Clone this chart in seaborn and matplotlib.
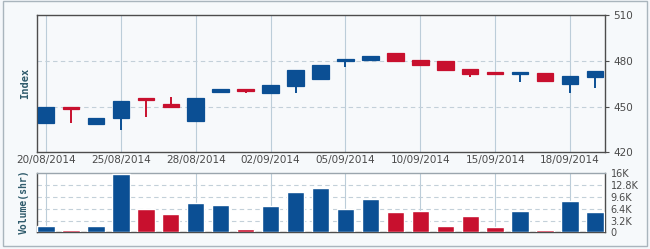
import numpy as np
import matplotlib
matplotlib.use("Agg")
import matplotlib.pyplot as plt
from matplotlib.patches import Rectangle
import seaborn as sns

dates = ['20/08/2014', '21/08/2014', '22/08/2014', '25/08/2014', '26/08/2014', '27/08/2014',
         '28/08/2014', '29/08/2014', '01/09/2014', '02/09/2014', '03/09/2014', '04/09/2014',
         '05/09/2014', '08/09/2014', '09/09/2014', '10/09/2014', '11/09/2014', '12/09/2014',
         '15/09/2014', '16/09/2014', '17/09/2014', '18/09/2014', '19/09/2014']
opens = [439.3, 449.8, 438.7, 442.6, 455.6, 451.4, 440.6, 459.7, 461.6, 459.0, 463.6, 467.8,
         479.8, 480.5, 485.3, 480.5, 479.8, 474.6, 472.5, 471.3, 471.9, 464.7, 469.3]
closes = [449.6, 448.5, 442.4, 453.6, 454.3, 449.4, 455.3, 461.4, 459.9, 464.1, 473.9, 477.2,
          481.1, 483.1, 480.0, 477.2, 473.9, 471.5, 471.2, 472.6, 466.6, 469.7, 473.2]
highs = [449.6, 449.8, 442.4, 453.6, 455.6, 456.0, 455.3, 461.4, 461.6, 464.1, 473.9, 477.2,
         481.1, 483.1, 485.3, 480.5, 479.8, 474.6, 472.5, 472.6, 471.9, 469.7, 473.2]
lows = [439.3, 439.3, 438.7, 434.5, 443.3, 449.4, 440.6, 459.7, 458.6, 459.0, 459.0, 467.8,
        476.1, 480.5, 480.0, 477.2, 473.9, 469.5, 471.2, 466.2, 466.6, 459.0, 461.9]
volumes = [1800, 650, 1800, 15700, 6300, 4900, 7900, 7350, 930, 7070, 11000, 12100,
           6300, 9000, 5400, 5700, 1800, 4300, 1500, 5700, 650, 8500, 5400]
tick_dates = ['20/08/2014', '25/08/2014', '28/08/2014', '02/09/2014', '05/09/2014',
              '10/09/2014', '15/09/2014', '18/09/2014']
price_ticks = [420, 450, 480, 510]
vol_ticks = [0, 3200, 6400, 9600, 12800, 16000]
vol_tick_labels = ['0', '3.2K', '6.4K', '9.6K', '12.8K', '16K']

UP = '#0b4f94'
DOWN = '#c8102e'
GRID = '#bccdd9'
SPINE = '#4d4d4d'
TXT = '#4a4a4a'
LBL = '#2e5a6b'

sns.set_style("white")
plt.rcParams['font.family'] = ['DejaVu Sans']

fig = plt.figure(figsize=(6.5, 2.49), dpi=100)
fig.patch.set_facecolor('#f4f7fa')
fig.patches.append(Rectangle((3/650, 3/249), 644/650, 245/249, transform=fig.transFigure,
                             fill=True, facecolor='#f6f9fb', edgecolor='#a9b5bd', lw=1, zorder=-1))

W, H = 650, 249
def rect(l, t, r, b):
    return [l / W, 1 - b / H, (r - l) / W, (b - t) / H]

ax = fig.add_axes(rect(37, 15, 605, 152.3))
ax2 = fig.add_axes(rect(37, 173.3, 605, 232.3))

idx = np.arange(len(dates))
o = np.array(opens); c = np.array(closes)
colors = [UP if cc >= oo else DOWN for oo, cc in zip(opens, closes)]
tick_pos = [dates.index(d) for d in tick_dates]
xlim = (-0.36, 22.4)

# --- price panel ---
ax.set_facecolor('#f7f9fb')
ax.vlines(idx, lows, highs, colors=colors, lw=1.4, zorder=2)
ax.bar(idx, np.abs(c - o), bottom=np.minimum(o, c), width=0.66, color=colors,
       edgecolor=colors, linewidth=0.9, zorder=3)
ax.set_xlim(*xlim)
ax.set_ylim(420, 510)
ax.set_xticks(tick_pos)
ax.set_xticklabels(tick_dates, fontsize=7.5, color=TXT)
ax.set_yticks(price_ticks)
ax.yaxis.tick_right()
ax.tick_params(axis='y', labelsize=7.5, labelcolor=TXT, length=3, color=SPINE, right=True, pad=3)
ax.tick_params(axis='x', length=0, pad=2)
for v in tick_pos:
    ax.axvline(v, color=GRID, lw=0.8, zorder=1)
for v in [450, 480]:
    ax.axhline(v, color='#c3d0d9', lw=0.8, ls=(0, (4, 3)), zorder=1)
for s in ax.spines.values():
    s.set_color(SPINE); s.set_linewidth(1)
ax.set_ylabel('')
fig.text(25 / W, 1 - 83 / H, 'Index', rotation=90, ha='center', va='center',
         family='DejaVu Sans Mono', fontweight='bold', fontsize=7.5, color=LBL)

# --- volume panel ---
ax2.set_facecolor('white')
pal = {str(i): col for i, col in enumerate(colors)}
sns.barplot(x=[str(i) for i in idx], y=volumes, hue=[str(i) for i in idx], palette=pal,
            legend=False, width=0.7, saturation=1, ax=ax2, zorder=3)
ax2.set_xlim(*xlim)
ax2.set_ylim(0, 16000)
ax2.set_xticks(tick_pos)
ax2.set_xticklabels([])
ax2.tick_params(axis='x', length=0)
ax2.set_yticks(vol_ticks)
ax2.set_yticklabels(vol_tick_labels)
ax2.yaxis.tick_right()
ax2.tick_params(axis='y', labelsize=7, labelcolor=TXT, length=0, pad=4)
for v in tick_pos:
    ax2.axvline(v, color=GRID, lw=0.8, zorder=1)
for v in vol_ticks[1:-1]:
    ax2.axhline(v, color='#c3d0d9', lw=0.8, ls=(0, (4, 3)), zorder=1)
for s in ax2.spines.values():
    s.set_color(SPINE); s.set_linewidth(1)
ax2.spines['top'].set_color('#9aa5ad')
ax2.set_xlabel(''); ax2.set_ylabel('')
fig.text(24 / W, 1 - 202 / H, 'Volume(shr)', rotation=90, ha='center', va='center',
         family='DejaVu Sans Mono', fontweight='bold', fontsize=7, color=LBL)

fig.savefig('out.png', dpi=100, facecolor=fig.get_facecolor())
